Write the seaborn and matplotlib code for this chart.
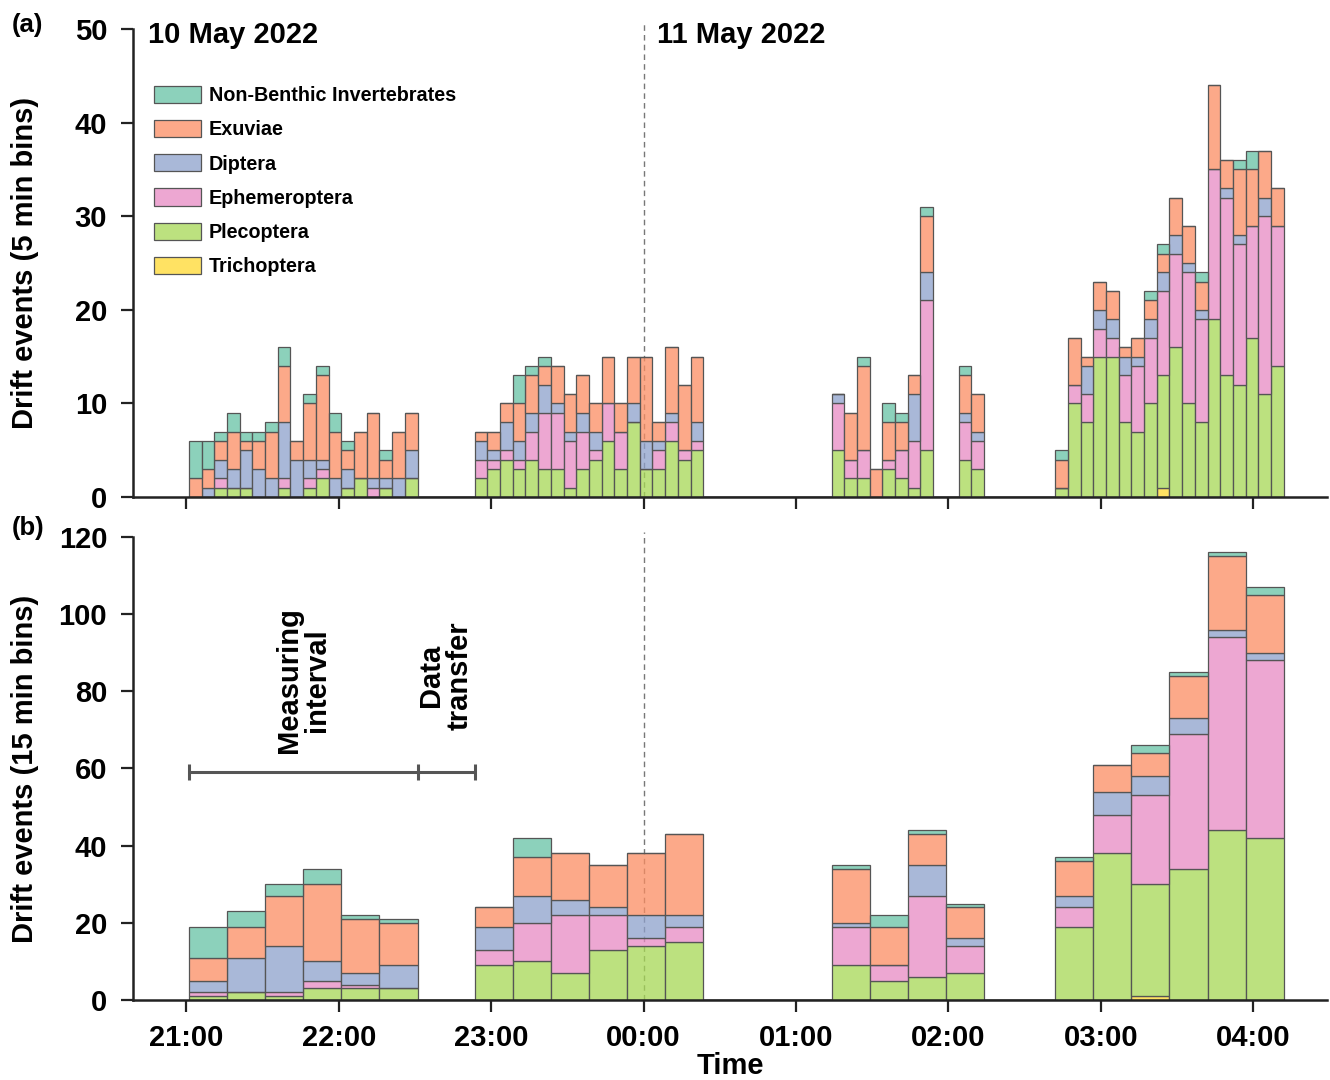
import numpy as np
import pandas as pd
import matplotlib
matplotlib.use("Agg")
import matplotlib.pyplot as plt
import seaborn as sns

# drift categories, top of stack first
groups = ['Non-Benthic Invertebrates', 'Exuviae', 'Diptera',
          'Ephemeroptera', 'Plecoptera', 'Trichoptera']

# start of each measuring interval (minutes after 21:00) and number of 5 min bins
seg_start = [1.0, 113.5, 254.0, 342.0]
seg_bins = [18, 18, 12, 18]

# 5 min counts, all segments concatenated
nbi = [4, 3, 1, 2, 1, 1, 1, 2, 0, 1, 1, 2, 1, 0, 0, 1, 0, 0,
       0, 0, 0, 3, 1, 1, 0, 0, 0, 0, 0, 0, 0, 0, 0, 0, 0, 0,
       0, 0, 1, 0, 2, 1, 0, 1, 0, 0, 1, 0,
       1, 0, 0, 0, 0, 0, 0, 1, 1, 0, 0, 1, 0, 0, 1, 2, 0, 0]
exuviae = [2, 2, 2, 4, 1, 3, 5, 6, 2, 6, 9, 5, 2, 5, 7, 2, 5, 4,
           1, 2, 2, 4, 4, 2, 4, 4, 4, 3, 5, 3, 5, 9, 2, 7, 7, 7,
           0, 5, 9, 3, 4, 3, 2, 6, 0, 0, 4, 4,
           3, 5, 1, 3, 3, 1, 2, 2, 2, 4, 4, 3, 9, 3, 7, 6, 5, 4]
diptera = [0, 1, 2, 2, 4, 3, 2, 6, 4, 2, 1, 2, 2, 0, 1, 1, 2, 3,
           2, 1, 3, 2, 2, 3, 1, 1, 2, 2, 0, 0, 2, 3, 1, 1, 0, 2,
           1, 0, 0, 0, 0, 0, 5, 3, 0, 0, 1, 1,
           0, 0, 3, 2, 2, 2, 1, 2, 2, 2, 1, 1, 0, 1, 1, 0, 2, 0]
ephemeroptera = [0, 0, 1, 0, 0, 0, 0, 1, 0, 1, 1, 0, 0, 0, 1, 0, 0, 0,
                 2, 1, 1, 1, 3, 6, 6, 5, 4, 1, 4, 4, 0, 0, 2, 2, 1, 1,
                 5, 2, 3, 0, 1, 3, 5, 16, 0, 0, 4, 3,
                 0, 2, 3, 3, 2, 5, 7, 7, 9, 10, 14, 11, 16, 19, 15, 12, 19, 15]
plecoptera = [0, 0, 1, 1, 1, 0, 0, 1, 0, 1, 2, 0, 1, 2, 0, 1, 0, 2,
              2, 3, 4, 3, 4, 3, 3, 1, 3, 4, 6, 3, 8, 3, 3, 6, 4, 5,
              5, 2, 2, 0, 3, 2, 1, 5, 0, 0, 4, 3,
              1, 10, 8, 15, 15, 8, 7, 10, 12, 16, 10, 8, 19, 13, 12, 17, 11, 14]
trichoptera = [0] * 48 + [0, 0, 0, 0, 0, 0, 0, 0, 1, 0, 0, 0, 0, 0, 0, 0, 0, 0]

tick_pos = [0, 60, 120, 180, 240, 300, 360, 420]
tick_labels = ['21:00', '22:00', '23:00', '00:00', '01:00', '02:00', '03:00', '04:00']

counts = dict(zip(groups, [nbi, exuviae, diptera, ephemeroptera, plecoptera, trichoptera]))

# long tables for 5 min and 15 min bins
rows5, rows15 = [], []
edges5, edges15 = [], []
pos = 0
for start, n in zip(seg_start, seg_bins):
    edges5.append(start + 5 * np.arange(n + 1))
    edges15.append(start + 15 * np.arange(n // 3 + 1))
    for g in groups:
        vals = np.array(counts[g][pos:pos + n])
        for k, v in enumerate(vals):
            rows5.append((start + 5 * k + 2.5, g, v))
        for j, v in enumerate(vals.reshape(-1, 3).sum(axis=1)):
            rows15.append((start + 15 * j + 7.5, g, v))
    pos += n
df5 = pd.DataFrame(rows5, columns=['time', 'group', 'count'])
df15 = pd.DataFrame(rows15, columns=['time', 'group', 'count'])
edges5 = np.unique(np.concatenate(edges5)).tolist()
edges15 = np.unique(np.concatenate(edges15)).tolist()

sns.set_theme(style='ticks')
plt.rcParams['font.family'] = ['Liberation Sans', 'DejaVu Sans']
plt.rcParams['font.weight'] = 'bold'
plt.rcParams['axes.labelweight'] = 'bold'
plt.rcParams['axes.linewidth'] = 1.8
plt.rcParams['axes.edgecolor'] = '#222222'
plt.rcParams['text.color'] = 'black'
plt.rcParams['axes.labelcolor'] = 'black'
plt.rcParams['xtick.labelcolor'] = 'black'
plt.rcParams['ytick.labelcolor'] = 'black'

palette = dict(zip(groups, sns.color_palette('Set2', 6)))

fig = plt.figure(figsize=(13.3, 10.8), dpi=100)
ax_a = fig.add_axes([0.1, 0.5398, 0.8977, 0.4333])
ax_b = fig.add_axes([0.1, 0.0741, 0.8977, 0.4287], sharex=ax_a)

bar_kw = dict(x='time', hue='group', weights='count', multiple='stack',
              hue_order=groups, palette=palette, alpha=0.75,
              edgecolor='#555555', linewidth=0.9)
sns.histplot(data=df5, bins=edges5, ax=ax_a, legend=True, **bar_kw)
sns.histplot(data=df15, bins=edges15, ax=ax_b, legend=False, **bar_kw)

for ax in (ax_a, ax_b):
    ax.axvline(180, ymax=1.01, color='#777777', lw=1, ls=(0, (4, 3)),
               zorder=0.5, clip_on=False)
    ax.set_xlim(-21, 449)
    ax.tick_params(axis='both', direction='out', length=8.6, width=1.6,
                   color='#222222', labelsize=21)
    ax.tick_params(axis='y', pad=10)
    ax.tick_params(axis='x', pad=9)
    sns.despine(ax=ax)

ax_a.set_ylim(0, 50)
ax_a.set_yticks(range(0, 51, 10))
ax_a.tick_params(axis='x', labelbottom=False)
ax_a.set_ylabel('Drift events (5 min bins)', fontsize=21)
ax_a.yaxis.set_label_coords(-0.079, 0.5)
ax_a.set_xlabel('')

ax_b.set_ylim(0, 120)
ax_b.set_yticks(range(0, 121, 20))
ax_b.set_xticks(tick_pos)
ax_b.set_xticklabels(tick_labels)
ax_b.set_ylabel('Drift events (15 min bins)', fontsize=21)
ax_b.yaxis.set_label_coords(-0.079, 0.5)
ax_b.set_xlabel('Time', fontsize=21, labelpad=0)

sns.move_legend(ax_a, 'upper left', bbox_to_anchor=(0.018, 0.879), frameon=False,
                title=None, fontsize=14.2, handlelength=2.35, handleheight=0.95,
                labelspacing=0.76, handletextpad=0.4, borderpad=0, borderaxespad=0)

ax_a.text(-14.9, 49.4, '10 May 2022', fontsize=21, va='center', ha='left')
ax_a.text(185.3, 49.4, '11 May 2022', fontsize=21, va='center', ha='left')

# measuring interval / data transfer annotation
ax_b.plot([1, 91, 113.5], [59, 59, 59], color='#555555', lw=2.2,
          marker='|', ms=11, mew=2.2)
ax_b.text(46, 64, 'Measuring\ninterval', rotation=90, fontsize=21,
          ha='center', va='bottom', multialignment='center', linespacing=1.0)
ax_b.text(102, 70, 'Data\ntransfer', rotation=90, fontsize=21,
          ha='center', va='bottom', multialignment='center', linespacing=1.0)

fig.text(0.009, 0.977, '(a)', fontsize=18.5, ha='left', va='center')
fig.text(0.009, 0.511, '(b)', fontsize=18.5, ha='left', va='center')

fig.savefig('out.png', dpi=100)
